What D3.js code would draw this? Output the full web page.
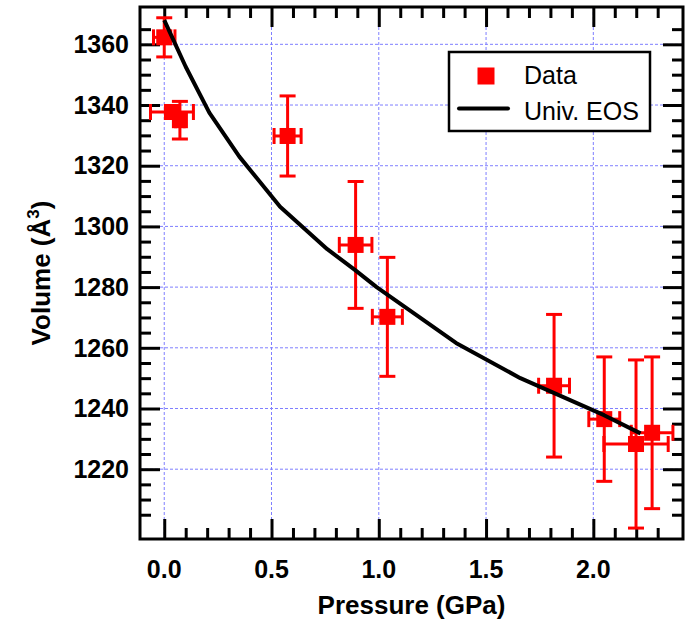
<!DOCTYPE html>
<html>
<head>
<meta charset="utf-8">
<script src="https://cdn.jsdelivr.net/npm/d3@7"></script>
<style>
  html, body { margin: 0; padding: 0; background: #fff; }
  svg { display: block; font-family: "Liberation Sans", Arial, Helvetica, sans-serif; }
</style>
</head>
<body>
<svg id="chart" width="691" height="621"></svg>
<script>
// Measured volumes under pressure, with error bars
const pressure    = [0.0, 0.036, 0.073, 0.575, 0.892, 1.040, 1.817, 2.051, 2.199, 2.274];
const volume      = [1362.3, 1337.7, 1335.0, 1329.8, 1293.9, 1270.2, 1247.5, 1236.5, 1228.3, 1232.0];
const pressureErr = [0.05, 0.10, 0.02, 0.063, 0.076, 0.07, 0.072, 0.072, 0.15, 0.097];
const volumeErr   = [6.45, 2.0, 6.2, 13.2, 20.9, 19.6, 23.5, 20.5, 27.7, 25.0];

// Universal equation-of-state fit
const eosPressure = [0.0, 0.10, 0.21, 0.35, 0.54, 0.76, 0.89, 0.99, 1.36, 1.66, 2.05, 2.22];
const eosVolume   = [1368.0, 1352.6, 1337.5, 1323.0, 1306.5, 1292.5, 1285.6, 1280.0, 1261.6, 1250.0, 1237.8, 1231.8];

// Axis ticks
const xMajor = [0.0, 0.5, 1.0, 1.5, 2.0];
const xMinor = [0.1, 0.2, 0.3, 0.4, 0.6, 0.7, 0.8, 0.9, 1.1, 1.2, 1.3, 1.4, 1.6, 1.7, 1.8, 1.9, 2.1, 2.2, 2.3];
const yMajor = [1220, 1240, 1260, 1280, 1300, 1320, 1340, 1360];
const yMinor = [1205, 1210, 1215, 1225, 1230, 1235, 1245, 1250, 1255, 1265, 1270, 1275,
                1285, 1290, 1295, 1305, 1310, 1315, 1325, 1330, 1335, 1345, 1350, 1355, 1365];

const legendLabels = ["Data", "Univ. EOS"];

const plotLeft = 140, plotRight = 683, plotTop = 7, plotBottom = 539;
const x = d3.scaleLinear().domain([-0.113, 2.418]).range([plotLeft, plotRight]);
const y = d3.scaleLinear().domain([1197.0, 1372.3]).range([plotBottom, plotTop]);

const svg = d3.select("#chart");

// Grid
const grid = svg.append("g")
  .attr("stroke", "#7f7fff").attr("stroke-width", 1).attr("stroke-dasharray", "3,2");
grid.selectAll("line.gx").data(xMajor).join("line").attr("class", "gx")
  .attr("x1", d => x(d)).attr("x2", d => x(d)).attr("y1", plotTop).attr("y2", plotBottom);
grid.selectAll("line.gy").data(yMajor).join("line").attr("class", "gy")
  .attr("x1", plotLeft).attr("x2", plotRight).attr("y1", d => y(d)).attr("y2", d => y(d));

// Inward ticks on all four sides
function styleTicks(g) {
  g.select(".domain").remove();
  g.selectAll(".tick line").attr("stroke", "#000").attr("stroke-width", 3);
  g.selectAll(".tick text").remove();
}
const majorLen = 20, minorLen = 11;
svg.append("g").attr("transform", `translate(0,${plotBottom})`)
  .call(d3.axisBottom(x).tickValues(xMajor).tickSize(-majorLen)).call(styleTicks);
svg.append("g").attr("transform", `translate(0,${plotBottom})`)
  .call(d3.axisBottom(x).tickValues(xMinor).tickSize(-minorLen)).call(styleTicks);
svg.append("g").attr("transform", `translate(0,${plotTop})`)
  .call(d3.axisTop(x).tickValues(xMajor).tickSize(-majorLen)).call(styleTicks);
svg.append("g").attr("transform", `translate(0,${plotTop})`)
  .call(d3.axisTop(x).tickValues(xMinor).tickSize(-minorLen)).call(styleTicks);
svg.append("g").attr("transform", `translate(${plotLeft},0)`)
  .call(d3.axisLeft(y).tickValues(yMajor).tickSize(-majorLen)).call(styleTicks);
svg.append("g").attr("transform", `translate(${plotLeft},0)`)
  .call(d3.axisLeft(y).tickValues(yMinor).tickSize(-minorLen)).call(styleTicks);
svg.append("g").attr("transform", `translate(${plotRight},0)`)
  .call(d3.axisRight(y).tickValues(yMajor).tickSize(-majorLen)).call(styleTicks);
svg.append("g").attr("transform", `translate(${plotRight},0)`)
  .call(d3.axisRight(y).tickValues(yMinor).tickSize(-minorLen)).call(styleTicks);

// Tick labels
svg.append("g").selectAll("text").data(xMajor).join("text")
  .attr("x", d => x(d)).attr("y", 578)
  .attr("text-anchor", "middle").attr("font-size", 25).attr("font-weight", "bold")
  .text(d => d3.format(".1f")(d));
svg.append("g").selectAll("text").data(yMajor).join("text")
  .attr("x", 129).attr("y", d => y(d)).attr("dy", "0.35em")
  .attr("text-anchor", "end").attr("font-size", 25).attr("font-weight", "bold")
  .text(d => d);

// Frame
svg.append("rect").attr("x", plotLeft).attr("y", plotTop)
  .attr("width", plotRight - plotLeft).attr("height", plotBottom - plotTop)
  .attr("fill", "none").attr("stroke", "#000").attr("stroke-width", 3);

// Error bars and markers
const pts = pressure.map((p, i) => ({ p, v: volume[i], ep: pressureErr[i], ev: volumeErr[i] }));
const cap = 8, half = 8;
const eb = svg.append("g").attr("stroke", "#ff0000").attr("stroke-width", 3);
pts.forEach(d => {
  const cx = x(d.p), cy = y(d.v);
  const y0 = y(d.v - d.ev), y1 = y(d.v + d.ev);
  const x0 = x(d.p - d.ep), x1 = x(d.p + d.ep);
  eb.append("line").attr("x1", cx).attr("x2", cx).attr("y1", y0).attr("y2", y1);
  eb.append("line").attr("x1", cx - cap).attr("x2", cx + cap).attr("y1", y0).attr("y2", y0);
  eb.append("line").attr("x1", cx - cap).attr("x2", cx + cap).attr("y1", y1).attr("y2", y1);
  eb.append("line").attr("x1", x0).attr("x2", x1).attr("y1", cy).attr("y2", cy);
  eb.append("line").attr("x1", x0).attr("x2", x0).attr("y1", cy - cap).attr("y2", cy + cap);
  eb.append("line").attr("x1", x1).attr("x2", x1).attr("y1", cy - cap).attr("y2", cy + cap);
});
svg.append("g").selectAll("rect").data(pts).join("rect")
  .attr("x", d => x(d.p) - half).attr("y", d => y(d.v) - half)
  .attr("width", 2 * half).attr("height", 2 * half).attr("fill", "#ff0000");

// EOS curve
const line = d3.line().x((d, i) => x(eosPressure[i])).y(d => y(d));
svg.append("path").datum(eosVolume).attr("d", line)
  .attr("fill", "none").attr("stroke", "#000").attr("stroke-width", 4)
  .attr("stroke-linejoin", "round");

// Axis titles
svg.append("text").attr("x", (plotLeft + plotRight) / 2).attr("y", 614)
  .attr("text-anchor", "middle").attr("font-size", 26).attr("font-weight", "bold")
  .text("Pressure (GPa)");
const yt = svg.append("text")
  .attr("transform", `translate(50,${(plotTop + plotBottom) / 2}) rotate(-90)`)
  .attr("text-anchor", "middle").attr("font-size", 26).attr("font-weight", "bold");
yt.append("tspan").text("Volume (Å");
yt.append("tspan").attr("font-size", 17).attr("dy", -11).text("3");
yt.append("tspan").attr("dy", 11).text(")");

// Legend
const lg = svg.append("g");
lg.append("rect").attr("x", 449).attr("y", 52).attr("width", 201).attr("height", 79)
  .attr("fill", "#fff").attr("stroke", "#000").attr("stroke-width", 2.5);
lg.append("rect").attr("x", 477.5).attr("y", 67.5).attr("width", 17).attr("height", 17).attr("fill", "#ff0000");
lg.append("line").attr("x1", 459).attr("x2", 508).attr("y1", 108.5).attr("y2", 108.5)
  .attr("stroke", "#000").attr("stroke-width", 4).attr("stroke-linecap", "round");
lg.selectAll("text").data(legendLabels).join("text")
  .attr("x", 524).attr("y", (d, i) => i === 0 ? 84 : 120)
  .attr("font-size", 25).text(d => d);
</script>
</body>
</html>
